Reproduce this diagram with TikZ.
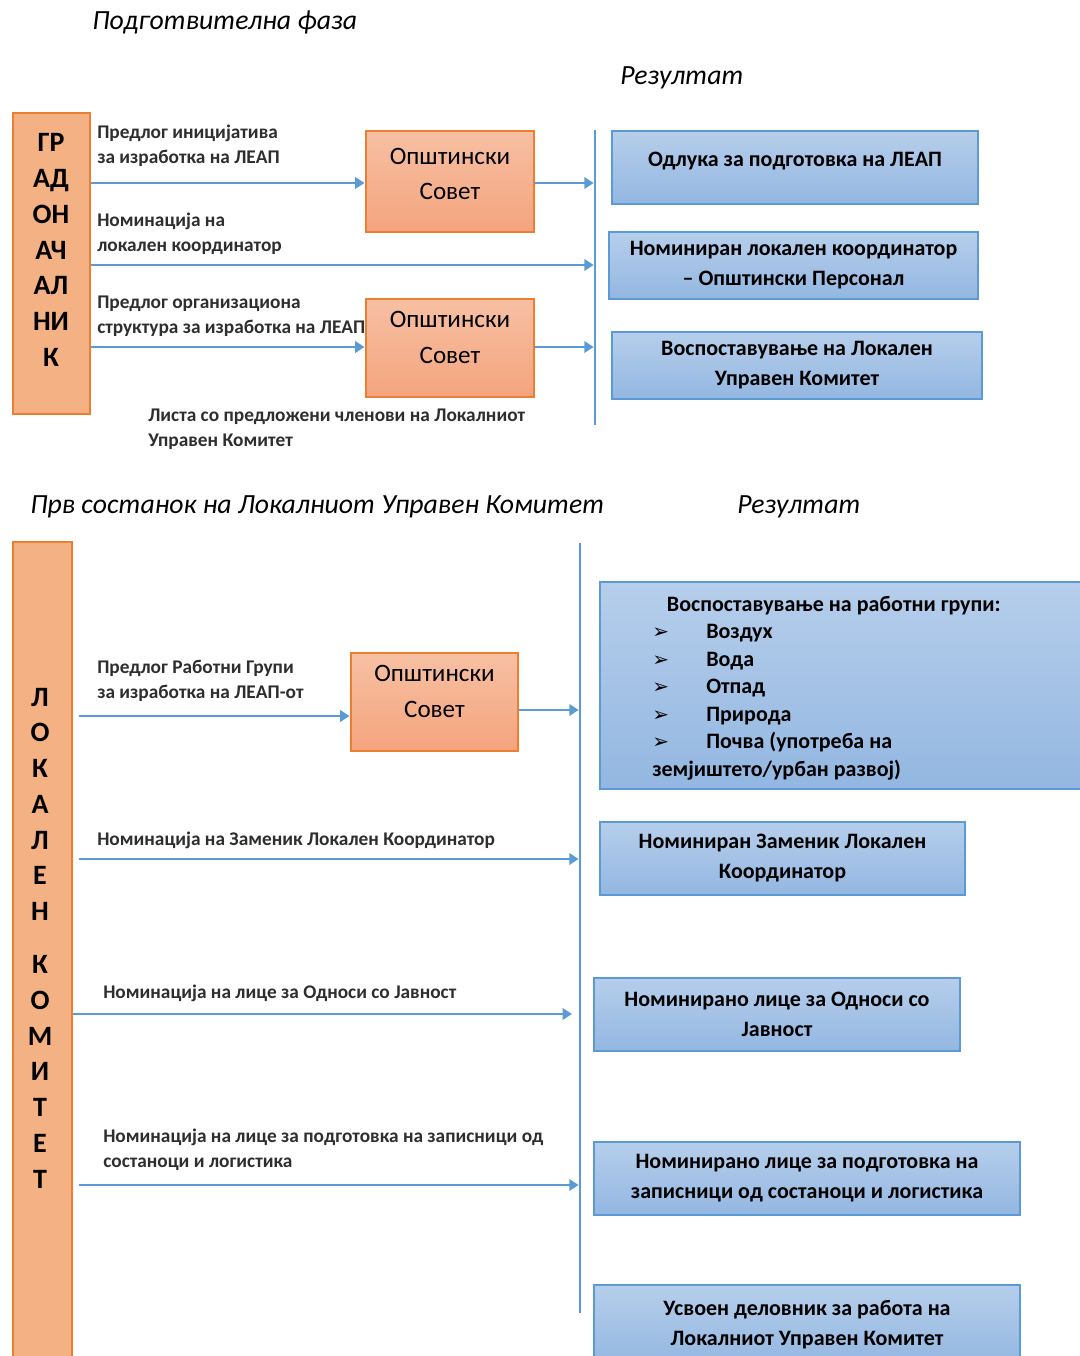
\documentclass[tikz,border=0pt]{standalone}
\usepackage{fontspec}
\setmainfont{Carlito}
\newfontfamily\dejavu{DejaVu Sans}
\usetikzlibrary{arrows.meta}
\definecolor{orL}{HTML}{F4B183}
\definecolor{orB}{HTML}{ED7D31}
\definecolor{salT}{HTML}{F7C0A3}
\definecolor{salB}{HTML}{F4A47E}
\definecolor{blT}{HTML}{B6CEEB}
\definecolor{blBot}{HTML}{93B7E1}
\definecolor{blB}{HTML}{5B9BD5}
\definecolor{lblc}{HTML}{2E2E2E}
\newcommand\blt{\makebox[40.5pt][l]{{\dejavu\fontsize{15}{15}\selectfont ➢}}}
\begin{document}
\begin{tikzpicture}[x=0.75pt,y=-0.75pt,
  gbox/.style={draw=orB, line width=2.2pt, fill=orL, inner sep=0pt},
  gtxt/.style={font=\bfseries\fontsize{21}{26.8}\selectfont, align=center, inner sep=0pt},
  council/.style={draw=orB, line width=2.2pt, top color=salT, bottom color=salB, font=\fontsize{18.8}{26.5}\selectfont, align=center, inner sep=0pt, text depth=16pt},
  res/.style={draw=blB, line width=2pt, top color=blT, bottom color=blBot, font=\bfseries\fontsize{16.5}{22.5}\selectfont, align=center, inner sep=0pt},
  lbl/.style={anchor=base west, font=\bfseries\fontsize{14.5}{18.5}\selectfont, text=lblc, align=left, inner sep=0pt},
  ttl/.style={anchor=base west, font=\itshape\fontsize{20.8}{24}\selectfont, inner sep=0pt},
  arr/.style={draw=blB, line width=2pt, -{Triangle[length=7pt,width=8.5pt]}},
  vline/.style={draw=blB, line width=1.6pt}
]
\useasboundingbox (0,0) rectangle (1080,1356);
\clip (0,0) rectangle (1080,1356);

% ---------- Section 1 ----------
\node[ttl] (t1) at (92,29) {Подготвителна фаза};
\node[ttl] (rz1) at (620,84) {Резултат};

\node[gbox, minimum width=77*0.75pt, minimum height=301*0.75pt] (g) at (51.5,263.5) {};
\node[gtxt] (gt) at (51,250) {ГР\\АД\\ОН\\АЧ\\АЛ\\НИ\\К};

\node[council, minimum width=168*0.75pt, minimum height=101*0.75pt, text depth=11pt] (c1) at (450,181.5) {Општински\\Совет};
\node[council, minimum width=168*0.75pt, minimum height=98*0.75pt] (c2) at (450,348) {Општински\\Совет};

\coordinate (v1t) at (595,130);
\coordinate (v1b) at (595,425);
\draw[vline] (v1t) -- (v1b);

\node[res, minimum width=366*0.75pt, minimum height=73*0.75pt, text depth=12pt] (r1) at (795,167.5) {Одлука за подготовка на ЛЕАП};
\node[res, minimum width=369*0.75pt, minimum height=67*0.75pt] (r2) at (793.5,265.5) {Номиниран локален координатор\\– Општински Персонал};
\node[res, minimum width=370*0.75pt, minimum height=67*0.75pt] (r3) at (797,365.5) {Воспоставување на Локален\\Управен Комитет};

\coordinate (ya) at (0,183);
\coordinate (yb) at (0,265);
\coordinate (yc) at (0,347);
\draw[arr] (g.east |- ya) -- (c1.west |- ya);
\draw[arr] (c1.east |- ya) -- ([xshift=-1pt]v1t |- ya);
\draw[arr] (g.east |- yb) -- ([xshift=-1pt]v1t |- yb);
\draw[arr] (g.east |- yc) -- (c2.west |- yc);
\draw[arr] (c2.east |- yc) -- ([xshift=-1pt]v1t |- yc);

\node[lbl] (l1) at (97,163) {Предлог иницијатива\\за изработка на ЛЕАП};
\node[lbl] (l2) at (97,251) {Номинација на\\локален координатор};
\node[lbl] (l3) at (97,333) {Предлог организациона\\структура за изработка на ЛЕАП};
\node[lbl] (l4) at (148,446) {Листа со предложени членови на Локалниот\\Управен Комитет};

% ---------- Section 2 ----------
\node[ttl] (t2) at (30,513) {Прв состанок на Локалниот Управен Комитет};
\node[ttl] (rz2) at (737,513) {Резултат};

\node[gbox, minimum width=59*0.75pt, minimum height=828*0.75pt] (L) at (42.5,956) {};
\node[gtxt] (Lt) at (40,938) {Л\\О\\К\\А\\Л\\Е\\Н\\[13pt]К\\О\\М\\И\\Т\\Е\\Т};

\node[council, minimum width=167*0.75pt, minimum height=98*0.75pt] (c3) at (434.5,702) {Општински\\Совет};

\coordinate (v2t) at (580,543);
\coordinate (v2b) at (580,1313);
\draw[vline] (v2t) -- (v2b);

\node[res, minimum width=490*0.75pt, minimum height=207*0.75pt] (r4) at (845,685.5) {};
\node[anchor=base west, font=\bfseries\fontsize{16.5}{20.6}\selectfont, align=left, inner sep=0pt] (r4t) at (652,776)
{\hspace*{11pt}Воспоставување на работни групи:\\
 \blt Воздух\\
 \blt Вода\\
 \blt Отпад\\
 \blt Природа\\
 \blt Почва (употреба на\\
 земјиштето/урбан развој)};

\node[res, minimum width=365*0.75pt, minimum height=73*0.75pt] (r5) at (782.5,858.5) {Номиниран Заменик Локален\\Координатор};
\node[res, minimum width=366*0.75pt, minimum height=73*0.75pt] (r6) at (777,1014.5) {Номинирано лице за Односи со\\Јавност};
\node[res, minimum width=426*0.75pt, minimum height=73*0.75pt] (r7) at (807,1178.5) {Номинирано лице за подготовка на\\записници од состаноци и логистика};
\node[res, minimum width=426*0.75pt, minimum height=80*0.75pt] (r8) at (807,1325) {Усвоен деловник за работа на\\Локалниот Управен Комитет};

\coordinate (yd) at (0,716);
\coordinate (ye) at (0,710);
\coordinate (yf) at (0,859);
\coordinate (yg) at (0,1014);
\coordinate (yh) at (0,1185);
\draw[arr] ([xshift=4pt]L.east |- yd) -- (c3.west |- yd);
\draw[arr] (c3.east |- ye) -- ([xshift=-1pt]v2t |- ye);
\draw[arr] ([xshift=4pt]L.east |- yf) -- ([xshift=-1pt]v2t |- yf);
\draw[arr] (L.east |- yg) -- ([xshift=-6pt]v2t |- yg);
\draw[arr] ([xshift=4pt]L.east |- yh) -- ([xshift=-1pt]v2t |- yh);

\node[lbl] (l5) at (97,698) {Предлог Работни Групи\\за изработка на ЛЕАП-от};
\node[lbl] (l6) at (97,845) {Номинација на Заменик Локален Координатор};
\node[lbl] (l7) at (103,998) {Номинација на лице за Односи со Јавност};
\node[lbl] (l8) at (103,1167) {Номинација на лице за подготовка на записници од\\состаноци и логистика};
\end{tikzpicture}
\end{document}
